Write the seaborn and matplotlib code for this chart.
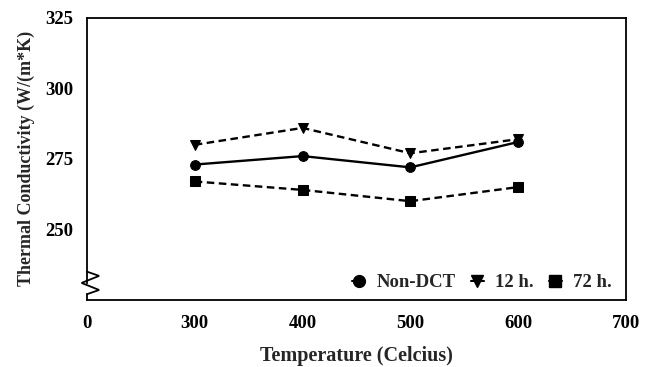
import matplotlib
matplotlib.use("Agg")
import matplotlib.pyplot as plt
from matplotlib.lines import Line2D
import seaborn as sns
import pandas as pd

# Axis categories (evenly spaced tick positions)
tick_labels = ["0", "300", "400", "500", "600", "700"]
temperatures = [300, 400, 500, 600]

non_dct = [273, 276, 272, 281]
dct_12h = [280, 286, 277, 282]
dct_72h = [267, 264, 260, 265]

series_names = ["Non-DCT", "12 h.", "72 h."]
series_values = [non_dct, dct_12h, dct_72h]
series_markers = ["o", "v", "s"]

rows = []
for name, vals in zip(series_names, series_values):
    for t, v in zip(temperatures, vals):
        rows.append({"pos": tick_labels.index(str(t)), "value": v, "series": name})
df = pd.DataFrame(rows)

sns.set_style("white")
plt.rcParams["font.family"] = ["Liberation Serif", "DejaVu Serif"]
plt.rcParams["font.weight"] = "bold"

fig = plt.figure(figsize=(6.52, 3.67), dpi=100)
ax = fig.add_axes([0.1334, 0.183, 0.8266, 0.768])

sns.lineplot(
    data=df, x="pos", y="value", hue="series", style="series",
    hue_order=series_names, style_order=series_names,
    palette=["black"] * 3,
    markers=dict(zip(series_names, series_markers)),
    dashes={"Non-DCT": "", "12 h.": (3.2, 1.9), "72 h.": (3.2, 1.9)},
    markersize=7, linewidth=1.7, markeredgecolor="black",
    ax=ax, legend=False,
)

ax.set_xlim(0, len(tick_labels) - 1)
ax.set_xticks(range(len(tick_labels)))
ax.set_xticklabels(tick_labels)
ax.set_ylim(225, 325)
ax.set_yticks([250, 275, 300, 325])

for s in ax.spines.values():
    s.set_color("black")
    s.set_linewidth(1.3)

ax.tick_params(axis="both", which="both", direction="out", length=3, width=1,
               colors="black", labelsize=13.5, pad=8)
for lab in ax.get_xticklabels() + ax.get_yticklabels():
    lab.set_fontweight("bold")
ax.tick_params(axis="y", length=0, pad=10)

ax.set_xlabel("Temperature (Celcius)", fontsize=14.5, fontweight="bold", labelpad=10)
ax.set_ylabel("Thermal Conductivity (W/(m*K)", fontsize=13, fontweight="bold", labelpad=7)

# Axis break on the left spine
ax.spines["left"].set_bounds(231, 325)
zx = [0.0, 0.0225, -0.01, 0.0225, 0.0]
zy = [0.10, 0.085, 0.06, 0.035, 0.02]
ax.plot(zx, zy, color="black", lw=1.3, transform=ax.transAxes,
        clip_on=False, solid_joinstyle="miter")
ax.plot([0, 0], [0, 0.02], color="black", lw=1.3, transform=ax.transAxes, clip_on=False)

# Legend
handles = [
    Line2D([], [], color="black", marker=m, linestyle="-", markersize=8.5, lw=1.5)
    for m in series_markers
]
ax.legend(handles, series_names, loc="lower right", ncol=3, frameon=False,
          handlelength=0.7, handletextpad=0.6, columnspacing=0.8,
          prop={"weight": "bold", "size": 13.5},
          bbox_to_anchor=(0.995, -0.01), borderaxespad=0.2)

fig.savefig("out.png", dpi=100, facecolor="white")
